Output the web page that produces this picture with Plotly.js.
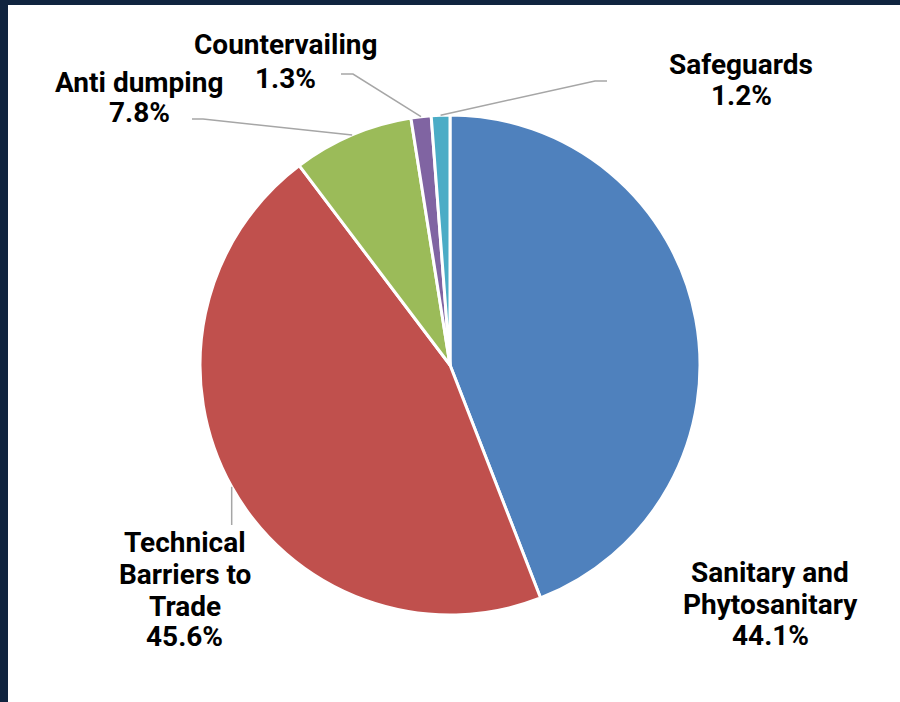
<!DOCTYPE html>
<html>
<head>
<meta charset="utf-8">
<script src="https://cdn.plot.ly/plotly-3.0.1.min.js"></script>
<style>
html,body{margin:0;padding:0;background:#fff;}
#chart{width:900px;height:702px;}
</style>
</head>
<body>
<div id="chart"></div>
<script>
// Data
var categories = ["Sanitary and Phytosanitary", "Technical Barriers to Trade", "Anti dumping", "Countervailing", "Safeguards"];
var values = [44.1, 45.6, 7.8, 1.3, 1.2];
var colors = ["#4F81BD", "#C0504D", "#9BBB59", "#8064A2", "#4BACC6"];
// label lines as displayed
var labelLines = [
  ["Sanitary and", "Phytosanitary", "44.1%"],
  ["Technical", "Barriers to", "Trade", "45.6%"],
  ["Anti dumping", "7.8%"],
  ["Countervailing", "1.3%"],
  ["Safeguards", "1.2%"]
];

// Layout (pixels)
var W = 900, H = 702;
var cx = 450, cy = 365, R = 250;
var labelPos = [
  {x: 770, ys: [572, 604, 635]},
  {x: 184.5, ys: [542.5, 574, 606, 636]},
  {x: 139, ys: [82.5, 113]},
  {x: 285.5, ys: [45, 79]},
  {x: 741, ys: [65, 95]}
];
// leader elbows (pixels) per slice; null = no leader
var leaderPts = [
  null,
  [[null, 525]],
  [[203, 119], [192, 119]],
  [[353, 74], [341, 74]],
  [[595, 81], [607, 81]]
];

function px(x){ return x / W; }
function py(y){ return 1 - y / H; }

var total = values.reduce(function(a,b){return a+b;}, 0);
var cum = 0;
var shapes = [];
var annotations = [];

// navy frame (top and left)
shapes.push({type:"rect", xref:"paper", yref:"paper", x0:0, x1:1, y0:py(5), y1:1, fillcolor:"#10243f", line:{width:0}, layer:"above"});
shapes.push({type:"rect", xref:"paper", yref:"paper", x0:0, x1:px(8), y0:0, y1:1, fillcolor:"#10243f", line:{width:0}, layer:"above"});

values.forEach(function(v, i){
  var mid = (cum + v/2) / total * 2 * Math.PI;
  cum += v;
  var ex = cx + R * Math.sin(mid);
  var ey = cy - R * Math.cos(mid);
  if (leaderPts[i]) {
    var d = "M" + px(ex) + "," + py(ey);
    leaderPts[i].forEach(function(p){
      var lx = (p[0] === null) ? ex : p[0];
      d += " L" + px(lx) + "," + py(p[1]);
    });
    shapes.push({type:"path", xref:"paper", yref:"paper", path:d, line:{color:"#a6a6a6", width:1.5}});
  }
  labelLines[i].forEach(function(t, j){
    annotations.push({
      xref:"paper", yref:"paper",
      x: px(labelPos[i].x), y: py(labelPos[i].ys[j]),
      xanchor:"center", yanchor:"middle",
      text: t, showarrow:false,
      font:{family:"Roboto, Arial, sans-serif", size:28, color:"#000000", weight:700}
    });
  });
});

var trace = {
  type: "pie",
  labels: categories,
  values: values,
  sort: false,
  direction: "clockwise",
  rotation: 0,
  textinfo: "none",
  hoverinfo: "label+percent",
  marker: {colors: colors, line: {color: "#ffffff", width: 3}},
  domain: {x: [px(cx - R), px(cx + R)], y: [py(cy + R), py(cy - R)]},
  showlegend: false
};

var layout = {
  width: W, height: H,
  margin: {l:0, r:0, t:0, b:0},
  paper_bgcolor: "#ffffff",
  plot_bgcolor: "#ffffff",
  showlegend: false,
  shapes: shapes,
  annotations: annotations
};

Plotly.newPlot("chart", [trace], layout, {displayModeBar:false, staticPlot:true});
</script>
</body>
</html>
